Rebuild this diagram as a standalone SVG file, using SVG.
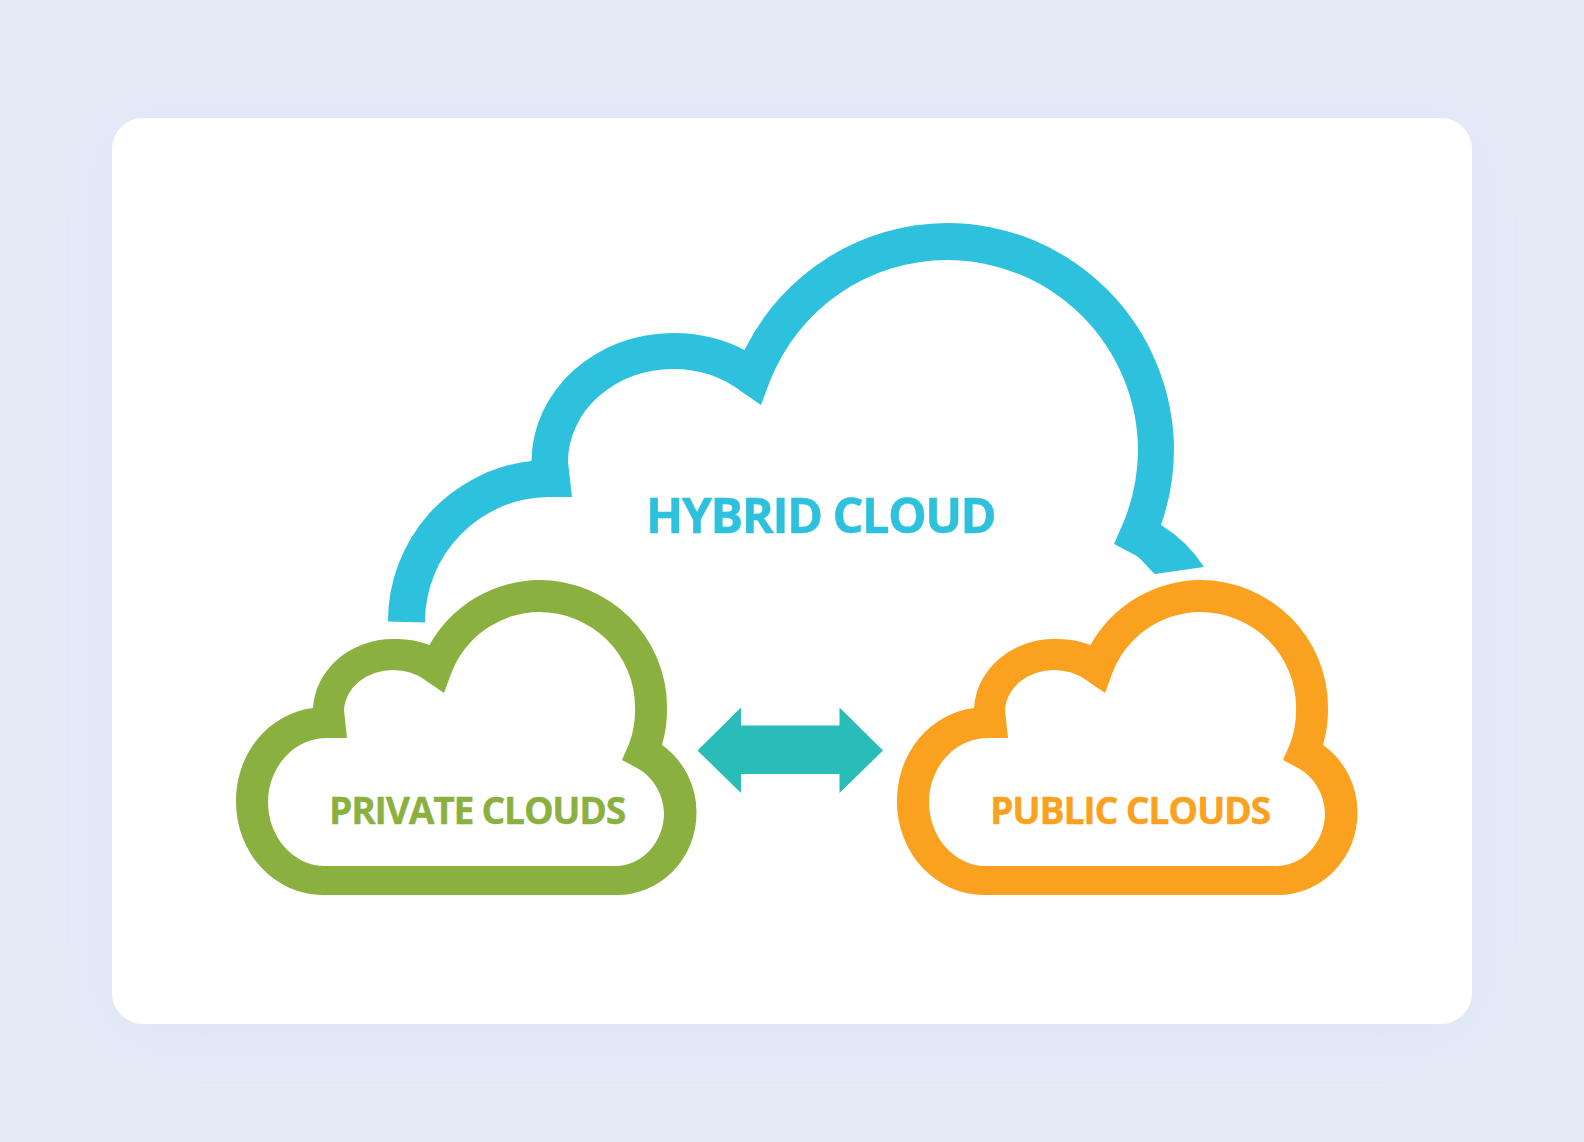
<svg xmlns="http://www.w3.org/2000/svg" width="1584" height="1142" viewBox="0 0 1584 1142">
<defs>
<filter id="sh" x="-20%" y="-25%" width="140%" height="150%"><feGaussianBlur stdDeviation="38"/></filter>
<path id="cloud" fill-rule="evenodd" d="M323 895A87 93 0 0 1 236 802A87 93 0 0 1 313 708A80 73 0 0 1 393 639A80 73 0 0 1 429.500 645A127 127 0 0 1 539 580A128 127 0 0 1 667 707A128 127 0 0 1 662 745A79.500 82 0 0 1 696.500 813A79.500 82 0 0 1 617 895ZM615 866L325 866A57 64 0 0 1 268 802A59 64 0 0 1 327 738L347 738L344 710A49 42 0 0 1 393 670A49 42 0 0 1 425 680L444 693L451 674A95 95 0 0 1 539 612A96 95 0 0 1 635 707A96 95 0 0 1 629 744L622 760L637 768A49 53 0 0 1 664 813A49 53 0 0 1 615 866Z"/>
<style>
text{font-family:"Open Sans","Noto Sans","Liberation Sans",sans-serif;font-weight:700;stroke-linejoin:round}
.lg{font-size:47.6px;letter-spacing:-1.6px;stroke-width:.4px}
.sm{font-size:37.5px;letter-spacing:-1.3px;stroke-width:.3px}
</style>
</defs>
<rect width="1584" height="1142" fill="#e5eaf6"/>
<rect x="112" y="126" width="1360" height="906" rx="31" fill="#dbe5f6" filter="url(#sh)"/>
<rect x="112" y="118" width="1360" height="906" rx="31" fill="#fff"/>
<g id="hybrid-cloud">
<path fill="#2ec1dd" fill-rule="evenodd" d="M388 621.500A161 161 0 0 1 531.500 461A142 129 0 0 1 673 333A142 129 0 0 1 744.500 350A227 227 0 0 1 947 223A227 228 0 0 1 1174 451A227 228 0 0 1 1161 525A135 135 0 0 1 1204 567L1155 574C1148 568 1142 559 1135 555L1114 544L1124 521A191 191 0 0 0 1138 451A191 191 0 0 0 947 260A191 191 0 0 0 770 381L761 405L742 392A105 93 0 0 0 673 369A105 93 0 0 0 568 462L572 497L549 497A125 125 0 0 0 425 622.500Z"/>
<text class="lg" x="646" y="533" fill="#2ec1dd" stroke="#2ec1dd" textLength="349" lengthAdjust="spacingAndGlyphs">HYBRID CLOUD</text>
</g>
<g id="private-clouds">
<use href="#cloud" fill="#8ab13f"/>
<text class="sm" x="329" y="824" fill="#8ab13f" stroke="#8ab13f" textLength="296" lengthAdjust="spacingAndGlyphs">PRIVATE CLOUDS</text>
</g>
<g id="public-clouds">
<use href="#cloud" x="661" fill="#faa220"/>
<text class="sm" x="990" y="824" fill="#faa220" stroke="#faa220" textLength="280" lengthAdjust="spacingAndGlyphs">PUBLIC CLOUDS</text>
</g>
<g id="connectors">
<polygon fill="#2abcb7" points="697.500,750.500 741,707.500 741,725.500 839.500,725.500 839.500,707.500 883,750.500 839.500,793 839.500,774 741,774 741,793"/>
</g>
</svg>
